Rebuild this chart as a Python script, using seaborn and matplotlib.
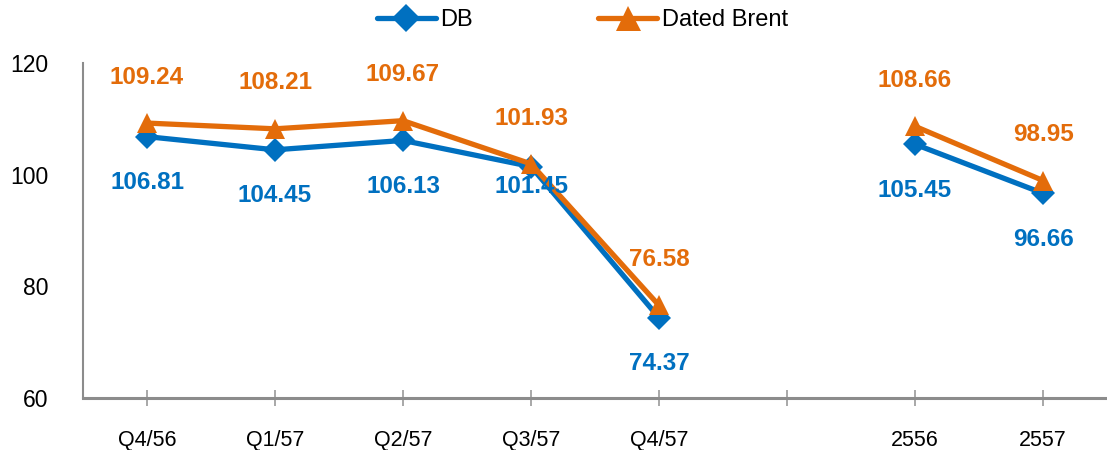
import pandas as pd
import numpy as np
import seaborn as sns
import matplotlib.pyplot as plt

# categories (blank slot between quarters and years)
categories = ['Q4/56', 'Q1/57', 'Q2/57', 'Q3/57', 'Q4/57', '', '2556', '2557']
segment = [0, 0, 0, 0, 0, 0, 1, 1]
db = [106.81, 104.45, 106.13, 101.45, 74.37, np.nan, 105.45, 96.66]
brent = [109.24, 108.21, 109.67, 101.93, 76.58, np.nan, 108.66, 98.95]

blue = '#0070C0'
orange = '#E36C0A'

sns.set_style('white')
plt.rcParams['font.family'] = ['Liberation Sans', 'DejaVu Sans']
plt.rcParams['text.color'] = 'black'
plt.rcParams['xtick.labelcolor'] = 'black'
plt.rcParams['ytick.labelcolor'] = 'black'

pos = np.arange(len(categories))
df = pd.concat([
    pd.DataFrame({'pos': pos, 'val': db, 'seg': segment, 'series': 'DB'}),
    pd.DataFrame({'pos': pos, 'val': brent, 'seg': segment, 'series': 'Dated Brent'}),
]).dropna()

fig = plt.figure(figsize=(11.07, 4.5), dpi=100)
ax = fig.add_axes([0.075, 0.1156, 0.925, 0.7444])

sns.lineplot(data=df[df.series == 'DB'], x='pos', y='val', units='seg', estimator=None,
             color=blue, marker='D', linewidth=3.8, markersize=12, markeredgewidth=0,
             label='DB', ax=ax)
sns.lineplot(data=df[df.series == 'Dated Brent'], x='pos', y='val', units='seg', estimator=None,
             color=orange, marker='^', linewidth=3.8, markersize=15, markeredgewidth=0,
             label='Dated Brent', ax=ax)

# data labels
for i, v in enumerate(db):
    if np.isnan(v):
        continue
    off = -14 if categories[i] == 'Q3/57' else -33
    ax.annotate(f'{v:.2f}', (pos[i], v), xytext=(0, off), textcoords='offset points',
                ha='center', va='center', color=blue, fontsize=17.5, fontweight='bold')
for i, v in enumerate(brent):
    if np.isnan(v):
        continue
    ax.annotate(f'{v:.2f}', (pos[i], v), xytext=(0, 33), textcoords='offset points',
                ha='center', va='center', color=orange, fontsize=17.5, fontweight='bold')

ax.set_xlim(-0.5, len(categories) - 0.5)
ax.set_ylim(60, 120)
ax.set_yticks([60, 80, 100, 120])
ax.set_xticks(pos)
ax.set_xticklabels(categories)
ax.set_xlabel('')
ax.set_ylabel('')

ax.tick_params(axis='x', direction='inout', length=12, width=1.2, color='#999999',
               labelsize=15.5, pad=17, bottom=True)
ax.tick_params(axis='y', length=0, labelsize=16.5, pad=25)

for s in ['top', 'right']:
    ax.spines[s].set_visible(False)
ax.spines['left'].set_color('#8c8c8c')
ax.spines['left'].set_linewidth(1.5)
ax.spines['bottom'].set_color('#8c8c8c')
ax.spines['bottom'].set_linewidth(2.2)

# one legend entry per series
handles, labels = ax.get_legend_handles_labels()
uniq = dict(zip(labels, handles))
ax.get_legend().remove()
fig.legend(list(uniq.values()), list(uniq.keys()), loc='center', bbox_to_anchor=(0.526, 0.955),
           ncol=2, frameon=False, fontsize=17, handlelength=2.5, handletextpad=0.2,
           columnspacing=5.3, markerscale=1.2)

plt.savefig('out.png', dpi=100)
